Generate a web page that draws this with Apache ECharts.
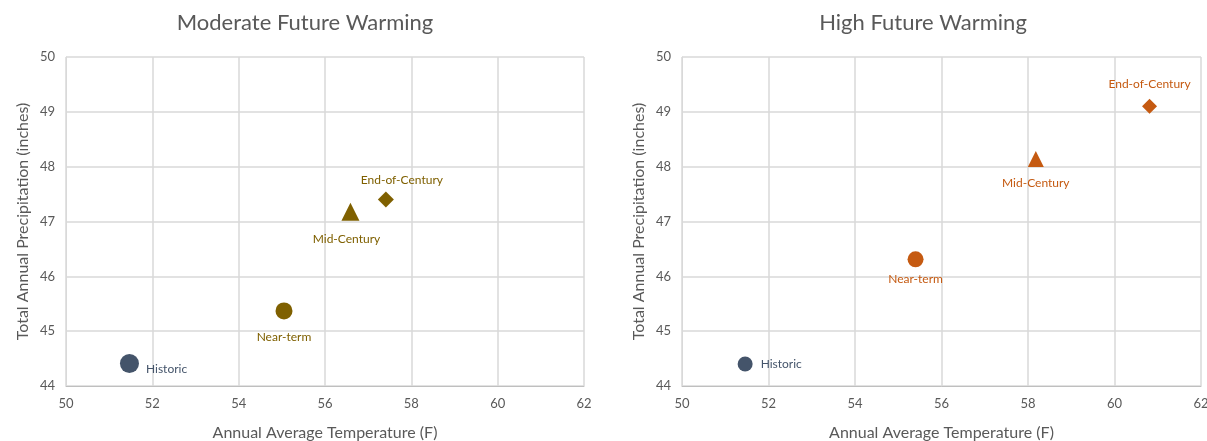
<!DOCTYPE html>
<html>
<head>
<meta charset="utf-8">
<script src="https://cdn.jsdelivr.net/npm/echarts@6/dist/echarts.min.js"></script>
<style>
    html, body { margin: 0; padding: 0; background: #fff; }
    #main { width: 1207px; height: 441px; }
</style>
</head>
<body>
<div id="main"></div>
<script>
// scenario names and symbols
const periods = ['Historic', 'Near-term', 'Mid-Century', 'End-of-Century'];
const symbols = ['circle', 'circle', 'triangle', 'diamond'];

// Moderate Future Warming
const moderateTemp = [51.47, 55.05, 56.59, 57.41];
const moderatePrecip = [44.41, 45.37, 47.18, 47.40];

// High Future Warming
const highTemp = [51.46, 55.40, 58.18, 60.81];
const highPrecip = [44.40, 46.31, 48.14, 49.10];

const xTicks = [50, 52, 54, 56, 58, 60, 62];
const yTicks = [44, 45, 46, 47, 48, 49, 50];

const font = 'Lato, "Open Sans", sans-serif';
const grey = '#595959';
const histColor = '#44546A';

function buildData(temps, precips, color, sizes, labelPos) {
    return periods.map((name, i) => ({
        name: name,
        value: [temps[i], precips[i]],
        symbol: symbols[i],
        symbolSize: sizes[i],
        itemStyle: { color: i === 0 ? histColor : color, opacity: 1 },
        label: Object.assign({
            show: true,
            formatter: name,
            color: i === 0 ? histColor : color,
            fontSize: 12,
            fontFamily: font
        }, labelPos[i])
    }));
}

function xAxisFor(idx) {
    return {
        gridIndex: idx,
        type: 'value',
        min: xTicks[0],
        max: xTicks[xTicks.length - 1],
        interval: 2,
        name: 'Annual Average Temperature (F)',
        nameLocation: 'middle',
        nameGap: 39,
        nameTextStyle: { color: grey, fontSize: 16, fontFamily: font },
        axisLine: { show: true, lineStyle: { color: '#BFBFBF' } },
        axisTick: { show: false },
        axisLabel: { color: grey, fontSize: 13, fontFamily: font, margin: 11 },
        splitLine: { show: true, lineStyle: { color: '#D9D9D9', width: 1.5 } }
    };
}

function yAxisFor(idx) {
    return {
        gridIndex: idx,
        type: 'value',
        min: yTicks[0],
        max: yTicks[yTicks.length - 1],
        interval: 1,
        name: 'Total Annual Precipitation (inches)',
        nameLocation: 'middle',
        nameGap: 35,
        nameTextStyle: { color: grey, fontSize: 16, fontFamily: font },
        axisLine: { show: true, lineStyle: { color: '#D9D9D9' } },
        axisTick: { show: false },
        axisLabel: { color: grey, fontSize: 13, fontFamily: font, margin: 11 },
        splitLine: { show: true, lineStyle: { color: '#D9D9D9', width: 1.5 } }
    };
}

const myChart = echarts.init(document.getElementById('main'));

const option = {
    backgroundColor: '#fff',
    animation: false,
    title: [
        {
            text: 'Moderate Future Warming',
            left: 300, top: 7, textAlign: 'center',
            textStyle: { color: grey, fontSize: 22, fontWeight: 'normal', fontFamily: font }
        },
        {
            text: 'High Future Warming',
            left: 918, top: 7, textAlign: 'center',
            textStyle: { color: grey, fontSize: 22, fontWeight: 'normal', fontFamily: font }
        }
    ],
    grid: [
        { left: 66, right: 623, top: 57, bottom: 55, containLabel: false, outerBoundsMode: 'none' },
        { left: 682, right: 6, top: 57, bottom: 55, containLabel: false, outerBoundsMode: 'none' }
    ],
    xAxis: [xAxisFor(0), xAxisFor(1)],
    yAxis: [yAxisFor(0), yAxisFor(1)],
    series: [
        {
            type: 'scatter',
            xAxisIndex: 0,
            yAxisIndex: 0,
            data: buildData(moderateTemp, moderatePrecip, '#7F6000', [19, 17, 18, 16], [
                { position: 'right', distance: 7, offset: [0, 6] },
                { position: 'bottom', distance: 12 },
                { position: 'bottom', distance: 12, offset: [-4, 0] },
                { position: 'top', distance: 5, offset: [16, 0] }
            ])
        },
        {
            type: 'scatter',
            xAxisIndex: 1,
            yAxisIndex: 1,
            data: buildData(highTemp, highPrecip, '#C55A11', [15, 16, 16, 15], [
                { position: 'right', distance: 8 },
                { position: 'bottom', distance: 6 },
                { position: 'bottom', distance: 10 },
                { position: 'top', distance: 9 }
            ])
        }
    ]
};

option && myChart.setOption(option);
</script>
</body>
</html>
